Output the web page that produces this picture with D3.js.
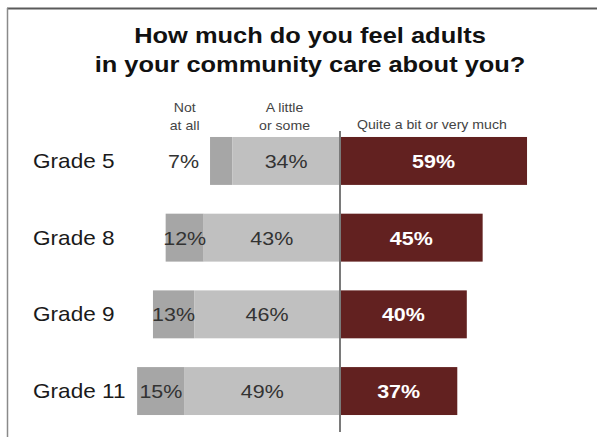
<!DOCTYPE html>
<html>
<head>
<meta charset="utf-8">
<script src="https://cdn.jsdelivr.net/npm/d3@7"></script>
<style>
  html, body { margin: 0; padding: 0; background: #fff; }
  svg { display: block; font-family: "Liberation Sans", Arial, Helvetica, sans-serif; }
</style>
</head>
<body>
<svg id="chart" width="597" height="437"></svg>
<script>
// ---- data ----
const grades = ["Grade 5", "Grade 8", "Grade 9", "Grade 11"];
const notAtAll = [7, 12, 13, 15];
const aLittle = [34, 43, 46, 49];
const quiteABit = [59, 45, 40, 37];
const titleLines = ["How much do you feel adults", "in your community care about you?"];
const headerNot = ["Not", "at all"];
const headerLittle = ["A little", "or some"];
const headerQuite = ["Quite a bit or very much"];

// ---- setup ----
const svg = d3.select("#chart");
const SX = 1.13; // horizontal stretch of the source image

const x = d3.scaleLinear().domain([-100, 100]).range([23, 657]);
const y = d3.scaleBand().domain(grades).range([122.6, 429.4])
  .paddingInner(0.375).paddingOuter(0.1875);

const colDark = "#a6a6a6", colLight = "#c0c0c0", colRed = "#622120";

function txt(g, s, px, py, opts) {
  const t = g.append("text")
    .attr("transform", `translate(${px},${py}) scale(${SX},1)`)
    .attr("text-anchor", opts.anchor || "middle")
    .attr("font-size", opts.size)
    .attr("font-weight", opts.weight || "normal")
    .attr("fill", opts.fill || "#222")
    .text(s);
  return t;
}

// frame
svg.append("line").attr("x1", 7).attr("x2", 597).attr("y1", 8.5).attr("y2", 8.5)
  .attr("stroke", "#5a5a5a").attr("stroke-width", 2);
svg.append("line").attr("x1", 7.5).attr("x2", 7.5).attr("y1", 8).attr("y2", 437)
  .attr("stroke", "#8a8a8a").attr("stroke-width", 1.5);

// title
titleLines.forEach((l, i) => {
  txt(svg, l, 310, 43 + i * 29, { size: 22.5, weight: "bold", fill: "#111" });
});

// headers
const hx1 = x(-49), hx2 = x(-17.5), hx3 = x(29);
headerNot.forEach((l, i) => txt(svg, l, hx1, 112 + i * 18, { size: 12.5, fill: "#444" }));
headerLittle.forEach((l, i) => txt(svg, l, hx2, 112 + i * 18, { size: 12.5, fill: "#444" }));
headerQuite.forEach((l) => txt(svg, l, hx3, 129, { size: 12.5, fill: "#444" }));

const rows = grades.map((g, i) => ({ g, n: notAtAll[i], l: aLittle[i], q: quiteABit[i] }));
const bh = y.bandwidth();

const gRows = svg.append("g");
rows.forEach((d) => {
  const top = y(d.g);
  const cy = top + bh / 2;
  const xs = x(-(d.n + d.l)), xm = x(-d.l), x0 = x(0), xe = x(d.q);
  gRows.append("rect").attr("x", xs).attr("y", top).attr("width", xm - xs).attr("height", bh).attr("fill", colDark);
  gRows.append("rect").attr("x", xm).attr("y", top).attr("width", x0 - xm).attr("height", bh).attr("fill", colLight);
  gRows.append("rect").attr("x", x0).attr("y", top).attr("width", xe - x0).attr("height", bh).attr("fill", colRed);

  // category label
  txt(gRows, d.g, 33, cy + 7, { size: 20, anchor: "start", fill: "#1a1a1a" });

  // values
  if (xm - xs < 30) {
    txt(gRows, d.n + "%", xs - 11, cy + 7, { size: 19, anchor: "end", fill: "#333" });
  } else {
    txt(gRows, d.n + "%", (xs + xm) / 2, cy + 7, { size: 19, fill: "#333" });
  }
  txt(gRows, d.l + "%", (xm + x0) / 2, cy + 7, { size: 19, fill: "#333" });
  txt(gRows, d.q + "%", (x0 + xe) / 2, cy + 7, { size: 19, weight: "bold", fill: "#fff" });
});

// center line
svg.append("line").attr("x1", x(0)).attr("x2", x(0)).attr("y1", 131).attr("y2", 432)
  .attr("stroke", "#7a7a7a").attr("stroke-width", 2);
</script>
</body>
</html>
